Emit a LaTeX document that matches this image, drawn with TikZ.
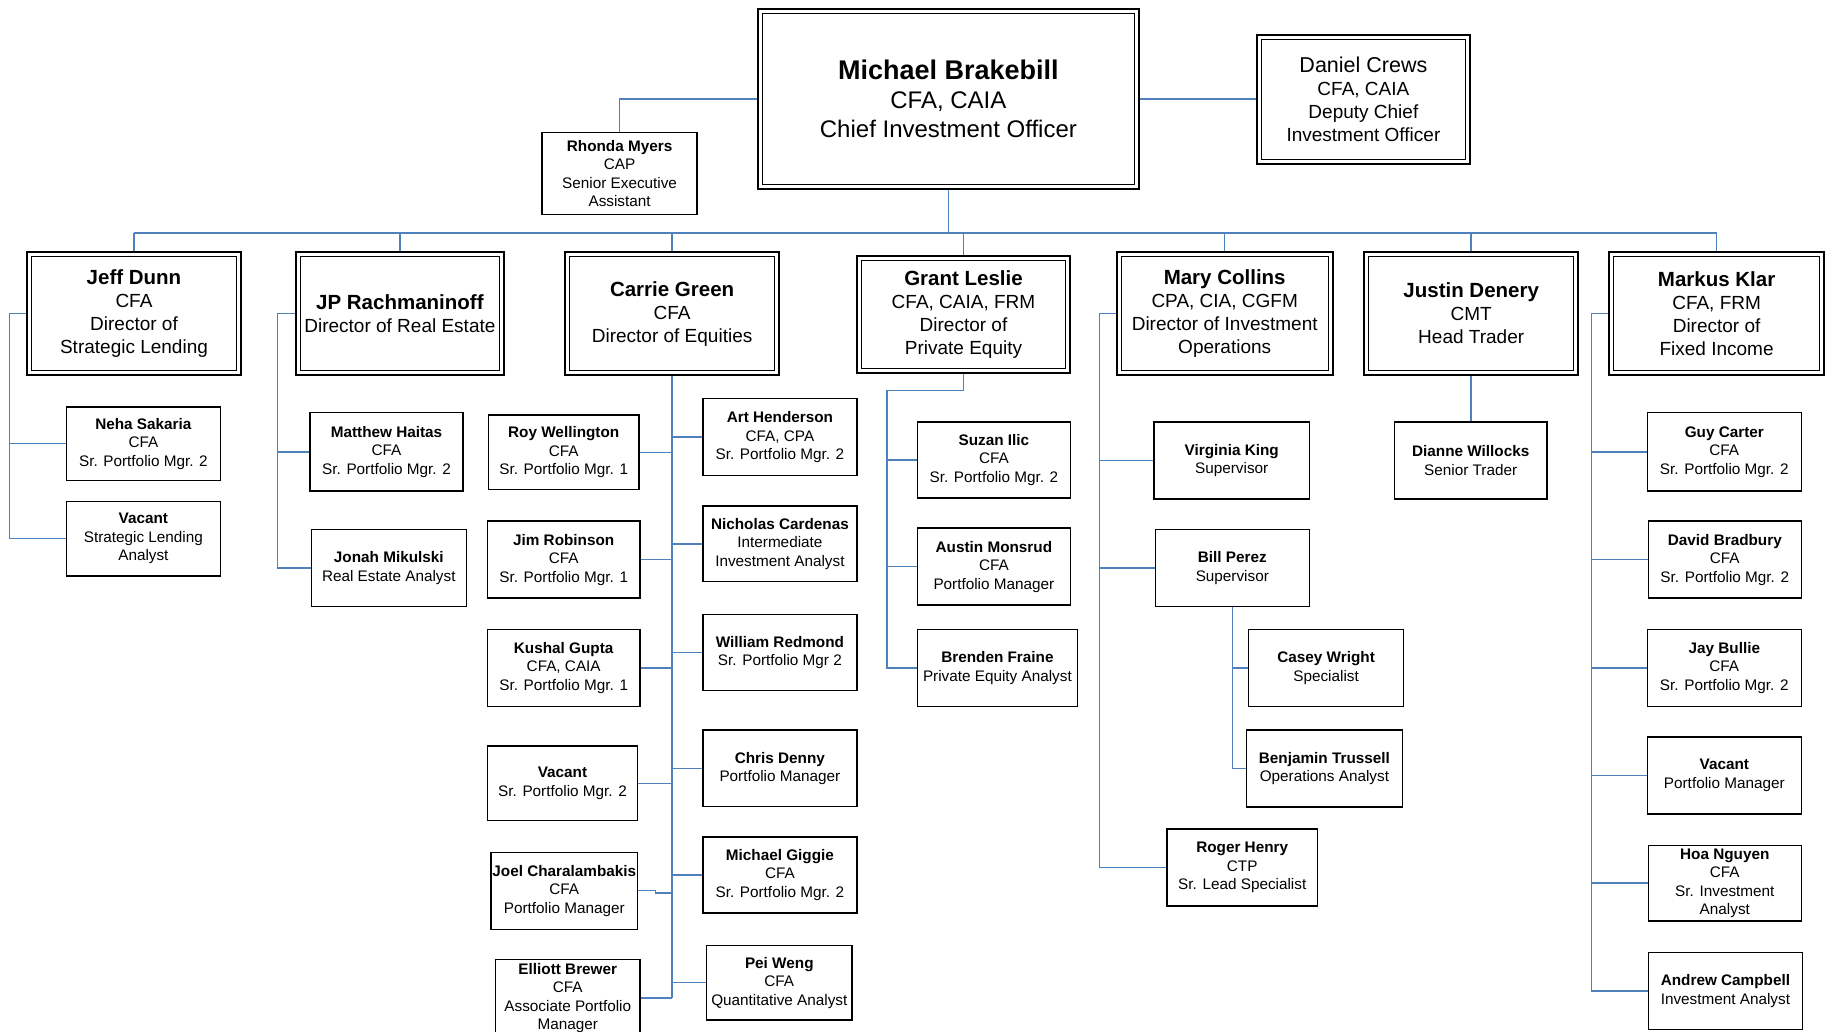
\documentclass[tikz,border=0pt]{standalone}
\usepackage{fontspec}
\setmainfont{Liberation Sans}
\definecolor{connblue}{RGB}{79,129,189}
\newcommand\dname[1]{{\fontsize{20.5}{23}\selectfont\bfseries #1}}
\begin{document}
\begin{tikzpicture}[x=1pt,y=-1pt,
  conn/.style={draw=connblue,line width=1.5},
  sbox/.style={draw=black,line width=1.4,inner sep=0pt,align=center,
    font=\fontsize{15.3}{18.5}\selectfont},
  dbox/.style={draw=black,line width=2,inner sep=0pt,align=center,
    path picture={\draw[line width=1] ([xshift=4.5pt,yshift=-4.5pt]path picture bounding box.north west) rectangle ([xshift=-4.5pt,yshift=4.5pt]path picture bounding box.south east);}},
  dir/.style={dbox,minimum height=123.6,font=\fontsize{19}{23}\selectfont}]
\clip (0,0) rectangle (1828,1032);
\fill[white] (0,0) rectangle (1828,1032);

% top
\node[dbox,minimum width=381,minimum height=180,font=\fontsize{24}{29}\selectfont] (cio) at (948.4,99.1)
  {{\fontsize{27}{29}\selectfont\bfseries Michael Brakebill}\\CFA, CAIA\\Chief Investment Officer};
\node[dbox,minimum width=213,minimum height=129,font=\fontsize{19}{23}\selectfont] (dcio) at (1363.4,99.7)
  {{\fontsize{21.5}{23}\selectfont Daniel Crews}\\CFA, CAIA\\Deputy Chief\\Investment Officer};
\node[sbox,minimum width=155,minimum height=82] (rm) at (619.6,173.7)
  {\textbf{Rhonda Myers}\\CAP\\Senior Executive\\Assistant};

% directors
\node[dir,minimum width=214.5] (jeff) at (134,313.6) {\dname{Jeff Dunn}\\CFA\\Director of\\Strategic Lending};
\node[dir,minimum width=207.5] (jp) at (399.9,313.6) {\dname{JP Rachmaninoff}\\Director of Real Estate};
\node[dir,minimum width=213.4] (carrie) at (672.1,313.6) {\dname{Carrie Green}\\CFA\\Director of Equities};
\node[dir,minimum width=213.3,minimum height=116.6] (grant) at (963.5,314.8) {\dname{Grant Leslie}\\CFA, CAIA, FRM\\Director of\\Private Equity};
\node[dir,minimum width=215.7] (mary) at (1224.7,313.6) {\dname{Mary Collins}\\CPA, CIA, CGFM\\Director of Investment\\Operations};
\node[dir,minimum width=214.5] (justin) at (1471.2,313.6) {\dname{Justin Denery}\\CMT\\Head Trader};
\node[dir,minimum width=215.7] (markus) at (1716.6,313.6) {\dname{Markus Klar}\\CFA, FRM\\Director of\\Fixed Income};

% strategic lending
\node[sbox,minimum width=153.8,minimum height=73.4] (neha) at (143.4,443.6) {\textbf{Neha Sakaria}\\CFA\\Sr. Portfolio Mgr. 2};
\node[sbox,minimum width=153.8,minimum height=74.6] (vsl) at (143.4,538.6) {\textbf{Vacant}\\Strategic Lending\\Analyst};
% real estate
\node[sbox,minimum width=152.7,minimum height=78.1] (matthew) at (386.5,451.8) {\textbf{Matthew Haitas}\\CFA\\Sr. Portfolio Mgr. 2};
\node[sbox,minimum width=155,minimum height=77] (jonah) at (388.8,567.8) {\textbf{Jonah Mikulski}\\Real Estate Analyst};
% equities left
\node[sbox,minimum width=150.4,minimum height=74.6] (roy) at (563.7,452.3) {\textbf{Roy Wellington}\\CFA\\Sr. Portfolio Mgr. 1};
\node[sbox,minimum width=152.7,minimum height=77] (jim) at (563.7,559.6) {\textbf{Jim Robinson}\\CFA\\Sr. Portfolio Mgr. 1};
\node[sbox,minimum width=152.7,minimum height=77] (kushal) at (563.7,668) {\textbf{Kushal Gupta}\\CFA, CAIA\\Sr. Portfolio Mgr. 1};
\node[sbox,minimum width=150.4,minimum height=74.6] (vspm) at (562.5,783.4) {\textbf{Vacant}\\Sr. Portfolio Mgr. 2};
\node[sbox,minimum width=146.9,minimum height=77] (joel) at (564.3,890.7) {\textbf{Joel Charalambakis}\\CFA\\Portfolio Manager};
\node[sbox,minimum width=144.5,minimum height=77.2] (elliott) at (567.8,998) {\textbf{Elliott Brewer}\\CFA\\Associate Portfolio\\Manager};
% equities right
\node[sbox,minimum width=153.9,minimum height=76.9] (art) at (779.9,437.2) {\textbf{Art Henderson}\\CFA, CPA\\Sr. Portfolio Mgr. 2};
\node[sbox,minimum width=153.9,minimum height=75.7] (nicholas) at (779.9,543.8) {\textbf{Nicholas Cardenas}\\Intermediate\\Investment Analyst};
\node[sbox,minimum width=153.9,minimum height=75.8] (william) at (779.9,652.3) {\textbf{William Redmond}\\Sr. Portfolio Mgr 2};
\node[sbox,minimum width=153.9,minimum height=76.9] (chris) at (779.9,768.3) {\textbf{Chris Denny}\\Portfolio Manager};
\node[sbox,minimum width=153.9,minimum height=75.8] (giggie) at (779.9,874.9) {\textbf{Michael Giggie}\\CFA\\Sr. Portfolio Mgr. 2};
\node[sbox,minimum width=145.7,minimum height=74.6] (pei) at (779.3,982.7) {\textbf{Pei Weng}\\CFA\\Quantitative Analyst};
% private equity
\node[sbox,minimum width=152.7,minimum height=75.8] (suzan) at (993.9,459.9) {\textbf{Suzan Ilic}\\CFA\\Sr. Portfolio Mgr. 2};
\node[sbox,minimum width=152.7,minimum height=77] (austin) at (993.9,566.6) {\textbf{Austin Monsrud}\\CFA\\Portfolio Manager};
\node[sbox,minimum width=159.7,minimum height=77] (brenden) at (997.4,668) {\textbf{Brenden Fraine}\\Private Equity Analyst};
% operations
\node[sbox,minimum width=155.1,minimum height=77] (virginia) at (1231.7,460.5) {\textbf{Virginia King}\\Supervisor};
\node[sbox,minimum width=153.9,minimum height=77] (bill) at (1232.3,567.8) {\textbf{Bill Perez}\\Supervisor};
\node[sbox,minimum width=155,minimum height=77] (casey) at (1326.1,668) {\textbf{Casey Wright}\\Specialist};
\node[sbox,minimum width=156.3,minimum height=77] (benjamin) at (1324.4,768.3) {\textbf{Benjamin Trussell}\\Operations Analyst};
\node[sbox,minimum width=150.4,minimum height=77] (roger) at (1242.2,867.4) {\textbf{Roger Henry}\\CTP\\Sr. Lead Specialist};
% trading
\node[sbox,minimum width=152.7,minimum height=77] (dianne) at (1470.7,460.5) {\textbf{Dianne Willocks}\\Senior Trader};
% fixed income
\node[sbox,minimum width=153.9,minimum height=78.1] (guy) at (1724.3,451.8) {\textbf{Guy Carter}\\CFA\\Sr. Portfolio Mgr. 2};
\node[sbox,minimum width=152.8,minimum height=77] (david) at (1724.8,559.6) {\textbf{David Bradbury}\\CFA\\Sr. Portfolio Mgr. 2};
\node[sbox,minimum width=153.9,minimum height=77] (jay) at (1724.3,668) {\textbf{Jay Bullie}\\CFA\\Sr. Portfolio Mgr. 2};
\node[sbox,minimum width=153.9,minimum height=77] (vpm) at (1724.3,775.3) {\textbf{Vacant}\\Portfolio Manager};
\node[sbox,minimum width=152.8,minimum height=75.8] (hoa) at (1724.8,883.1) {\textbf{Hoa Nguyen}\\CFA\\Sr. Investment\\Analyst};
\node[sbox,minimum width=153.9,minimum height=76.9] (andrew) at (1725.4,991) {\textbf{Andrew Campbell}\\Investment Analyst};

% ---- connectors ----
\coordinate (bus) at (948.4,233.2);
\draw[conn] (cio.south) -- (bus);
\draw[conn] (jeff.north |- bus) -- (markus.north |- bus);
\foreach \n in {jeff,jp,carrie,grant,mary,justin,markus}
  \draw[conn] (\n.north |- bus) -- (\n.north);
\draw[conn] (cio.west) -| (rm.north);
\draw[conn] (cio.east) -- (cio.east -| dcio.west);

% strategic lending
\coordinate (jl) at (9.3,313.6);
\draw[conn] (jeff.west) -- (jl) |- (vsl.west);
\draw[conn] (jl |- neha.west) -- (neha.west);
% real estate
\coordinate (jpl) at (277.5,313.6);
\draw[conn] (jp.west) -- (jpl) |- (jonah.west);
\draw[conn] (jpl |- matthew.west) -- (matthew.west);
% equities
\coordinate (ct) at (671.5,998);
\draw[conn] (carrie.south) -- (carrie.south |- ct);
\foreach \n in {roy,jim,kushal,vspm,elliott}
  \draw[conn] (\n.east) -- (\n.east -| ct);
\draw[conn] (joel.east) -- ++(17,0) -- ++(0,2.5) -- ([yshift=-2.5pt]joel.east -| ct);
\foreach \n in {art,nicholas,william,chris,giggie,pei}
  \draw[conn] (\n.west -| ct) -- (\n.west);
% private equity
\coordinate (gl) at (887.2,390.5);
\draw[conn] (grant.south) |- (gl) |- (brenden.west);
\draw[conn] (gl |- suzan.west) -- (suzan.west);
\draw[conn] (gl |- austin.west) -- (austin.west);
% operations
\coordinate (ml) at (1099.3,313.6);
\draw[conn] (mary.west) -- (ml) |- (roger.west);
\draw[conn] (ml |- virginia.west) -- (virginia.west);
\draw[conn] (ml |- bill.west) -- (bill.west);
\draw[conn] (bill.south) |- (benjamin.west);
\draw[conn] (bill.south |- casey.west) -- (casey.west);
% trading
\draw[conn] (justin.south) -- (justin.south |- dianne.north);
% fixed income
\coordinate (mkl) at (1591.3,313.6);
\draw[conn] (markus.west) -- (mkl) |- (andrew.west);
\foreach \n in {guy,david,jay,vpm,hoa}
  \draw[conn] (mkl |- \n.west) -- (\n.west);
\end{tikzpicture}
\end{document}
